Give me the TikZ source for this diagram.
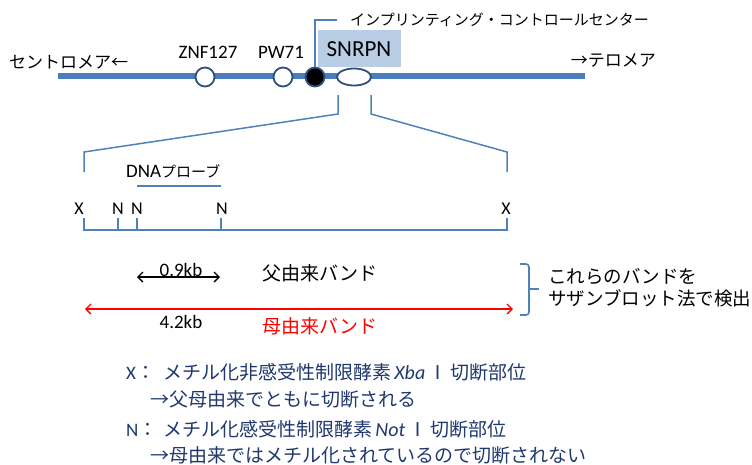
\documentclass[tikz,border=0pt]{standalone}
\usepackage{fontspec}
\setmainfont{Noto Sans CJK JP}
\newfontfamily\lat{Carlito}
\usetikzlibrary{arrows.meta,shapes.geometric}
\definecolor{chrom}{RGB}{74,126,187}
\definecolor{circedge}{RGB}{46,80,125}
\definecolor{lblue}{RGB}{79,129,189}
\definecolor{boxfill}{RGB}{185,205,229}
\definecolor{navy}{RGB}{31,56,110}
\tikzset{
  jp/.style={inner sep=0pt, font=\fontsize{19}{23}\selectfont},
  lt/.style={inner sep=0pt, font=\lat\fontsize{19}{23}\selectfont},
  gene/.style={circle, draw=circedge, line width=1.8pt, fill=white, minimum size=19pt, inner sep=0pt},
  expl/.style={lblue, line width=1.5pt},
  bar/.style={lblue, line width=2pt},
  dimarrow/.style={line width=1.3pt, {Straight Barb[length=5pt,width=10pt]}-{Straight Barb[length=5pt,width=10pt]}},
  note/.style={inner sep=0pt, anchor=west, text=navy, font=\fontsize{19}{23}\selectfont}
}
\begin{document}
\begin{tikzpicture}[x=1pt,y=-1pt]
\useasboundingbox (0,0) rectangle (752,464);
% SNRPN box
\node[fill=boxfill, minimum width=83pt, minimum height=37pt, inner sep=0pt] (snbox) at (359.5,48.5) {};
\node[inner sep=0pt, font=\lat\fontsize{23}{26}\selectfont] (snrpn) at (359,49) {SNRPN};
% chromosome
\coordinate (chL) at (58,76);
\coordinate (chR) at (585,76);
\draw[chrom, line width=5.5pt] (chL) -- (chR);
\node[gene] (znf) at (205,77) {};
\node[gene] (pw) at (283,77) {};
\node[gene, fill=black] (icc) at (315,77) {};
\node[ellipse, draw=circedge, line width=1.8pt, fill=white, minimum width=34pt, minimum height=17pt, inner sep=0pt] (snE) at (354,77) {};
% labels on chromosome
\node[jp, anchor=west, font=\fontsize{17}{20}\selectfont] (cen) at (9,62) {セントロメア←};
\node[jp, anchor=east, font=\fontsize{17}{20}\selectfont] (tel) at (656,60) {→テロメア};
\node[lt] (znfl) at (208,52) {ZNF127};
\node[lt] (pwl) at (281,52) {PW71};
% imprinting center leader
\coordinate (ldr) at (337,20);
\draw[lblue, line width=1.2pt] (icc.north) |- (ldr);
\node[jp, anchor=west, font=\fontsize{15}{18}\selectfont] (icct) at (350,20) {インプリンティング・コントロールセンター};
% expansion lines
\coordinate (eL1) at (338,95);
\coordinate (eL2) at (338,114);
\coordinate (eL3) at (84,152);
\coordinate (eL4) at (84,172);
\coordinate (eR1) at (371,95);
\coordinate (eR2) at (371,114);
\coordinate (eR3) at (507,152);
\coordinate (eR4) at (507,172);
\draw[expl] (eL1) -- (eL2) -- (eL3) -- (eL4);
\draw[expl] (eR1) -- (eR2) -- (eR3) -- (eR4);
% probe
\node[inner sep=0pt, anchor=west] (probel) at (126,171) {{\lat\fontsize{19}{22}\selectfont DNA}{\fontsize{15}{18}\selectfont プローブ}};
\coordinate (pr1) at (137,186);
\coordinate (pr2) at (221,186);
\draw[expl] (pr1) -- (pr2);
% restriction map
\node[lt, font=\lat\fontsize{18}{21}\selectfont] (x1) at (79,209) {X};
\node[lt, font=\lat\fontsize{18}{21}\selectfont] (n1) at (118,209) {N};
\node[lt, font=\lat\fontsize{18}{21}\selectfont] (n2) at (137,209) {N};
\node[lt, font=\lat\fontsize{18}{21}\selectfont] (n3) at (222,209) {N};
\node[lt, font=\lat\fontsize{18}{21}\selectfont] (x2) at (506,209) {X};
\coordinate (b1) at (84,230);
\coordinate (b2) at (507,230);
\coordinate (t1) at (84,218);
\coordinate (t2) at (118,218);
\coordinate (t3) at (137,218);
\coordinate (t4) at (221,218);
\coordinate (t5) at (507,218);
\draw[bar] (t1) -- (b1) -- (b2) -- (t5);
\draw[bar] (t2) -- (t2 |- b1);
\draw[bar] (t3) -- (t3 |- b1);
\draw[bar] (t4) -- (t4 |- b1);
% bands
\coordinate (a1) at (137,277);
\coordinate (a2) at (220,277);
\draw[dimarrow, black] (a1) -- (a2);
\node[lt] (kb09) at (181,270) {0.9kb};
\node[jp] (pat) at (320,273) {父由来バンド};
\coordinate (r1) at (85,309);
\coordinate (r2) at (513,309);
\draw[dimarrow, red] (r1) -- (r2);
\node[lt] (kb42) at (181,322) {4.2kb};
\node[jp, text=red] (mat) at (320,326) {母由来バンド};
% brace
\coordinate (brT) at (520,264);
\coordinate (brM) at (529,289);
\coordinate (brTip) at (539,289);
\coordinate (brB) at (520,315);
\draw[lblue, line width=1.6pt, rounded corners=3pt] (brT) -- (brT -| brM) -- (brM) -- (brM |- brB) -- (brB);
\draw[lblue, line width=1.6pt] (brM) -- (brTip);
\node[jp, anchor=west, font=\fontsize{18.5}{22}\selectfont] (det1) at (548,277) {これらのバンドを};
\node[jp, anchor=west, font=\fontsize{18.5}{22}\selectfont] (det2) at (548,298) {サザンブロット法で検出};
% notes
\node[note] (nx1) at (126,372) {\makebox[37pt][l]{{\lat X}：}メチル化非感受性制限酵素\,{\lat\itshape\fontsize{20}{23}\selectfont Xba}\,Ⅰ\,切断部位};
\node[note] (nx2) at (150,399) {→父母由来でともに切断される};
\node[note] (nn1) at (126,429) {\makebox[37pt][l]{{\lat N}：}メチル化感受性制限酵素\,{\lat\itshape\fontsize{20}{23}\selectfont Not}\,Ⅰ\,切断部位};
\node[note] (nn2) at (150,455) {→母由来ではメチル化されているので切断されない};
\end{tikzpicture}
\end{document}
